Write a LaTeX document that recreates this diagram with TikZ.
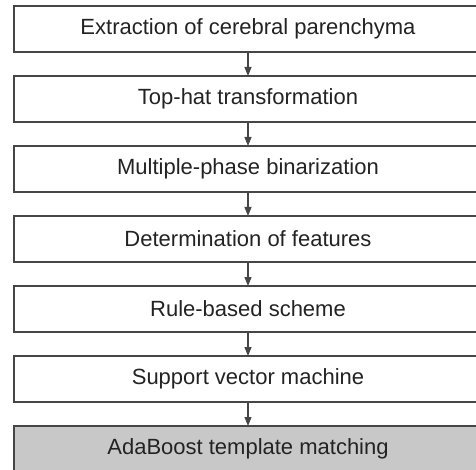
\documentclass[tikz,border=0pt]{standalone}
\usepackage{fontspec}
\setmainfont{Liberation Sans}
\usepackage{tikz}
\usetikzlibrary{arrows.meta}
\usepackage{xcolor}
\definecolor{boxline}{RGB}{70, 70, 70}
\definecolor{boxgray}{RGB}{200, 200, 200}
\definecolor{labeltext}{RGB}{35, 35, 35}

\begin{document}
\begin{tikzpicture}[x=1pt, y=1pt, font=\fontsize{22}{26}\selectfont,
    step box/.style={rectangle, draw=boxline, line width=1.2pt, fill=white, text=labeltext,
                     minimum width=468pt, minimum height=46pt, inner sep=0pt, outer sep=0pt}]
  \useasboundingbox (0,0) rectangle (476,-470);
  \node[step box] (extract) at (248, -29)  {Extraction of cerebral parenchyma};
  \node[step box] (tophat)  at (248, -99)  {Top-hat transformation};
  \node[step box] (binar)   at (248, -169) {Multiple-phase binarization};
  \node[step box] (feat)    at (248, -239) {Determination of features};
  \node[step box] (rule)    at (248, -309) {Rule-based scheme};
  \node[step box] (svm)     at (248, -379) {Support vector machine};
  \node[step box, fill=boxgray] (ada) at (248, -449) {AdaBoost template matching};

  % Flow arrows
  \draw[-{Triangle[length=9pt, width=7pt]}, boxline, line width=1.2pt] (extract)--(tophat);
  \draw[-{Triangle[length=9pt, width=7pt]}, boxline, line width=1.2pt] (tophat)--(binar);
  \draw[-{Triangle[length=9pt, width=7pt]}, boxline, line width=1.2pt] (binar)--(feat);
  \draw[-{Triangle[length=9pt, width=7pt]}, boxline, line width=1.2pt] (feat)--(rule);
  \draw[-{Triangle[length=9pt, width=7pt]}, boxline, line width=1.2pt] (rule)--(svm);
  \draw[-{Triangle[length=9pt, width=7pt]}, boxline, line width=1.2pt] (svm)--(ada);
\end{tikzpicture}
\end{document}
